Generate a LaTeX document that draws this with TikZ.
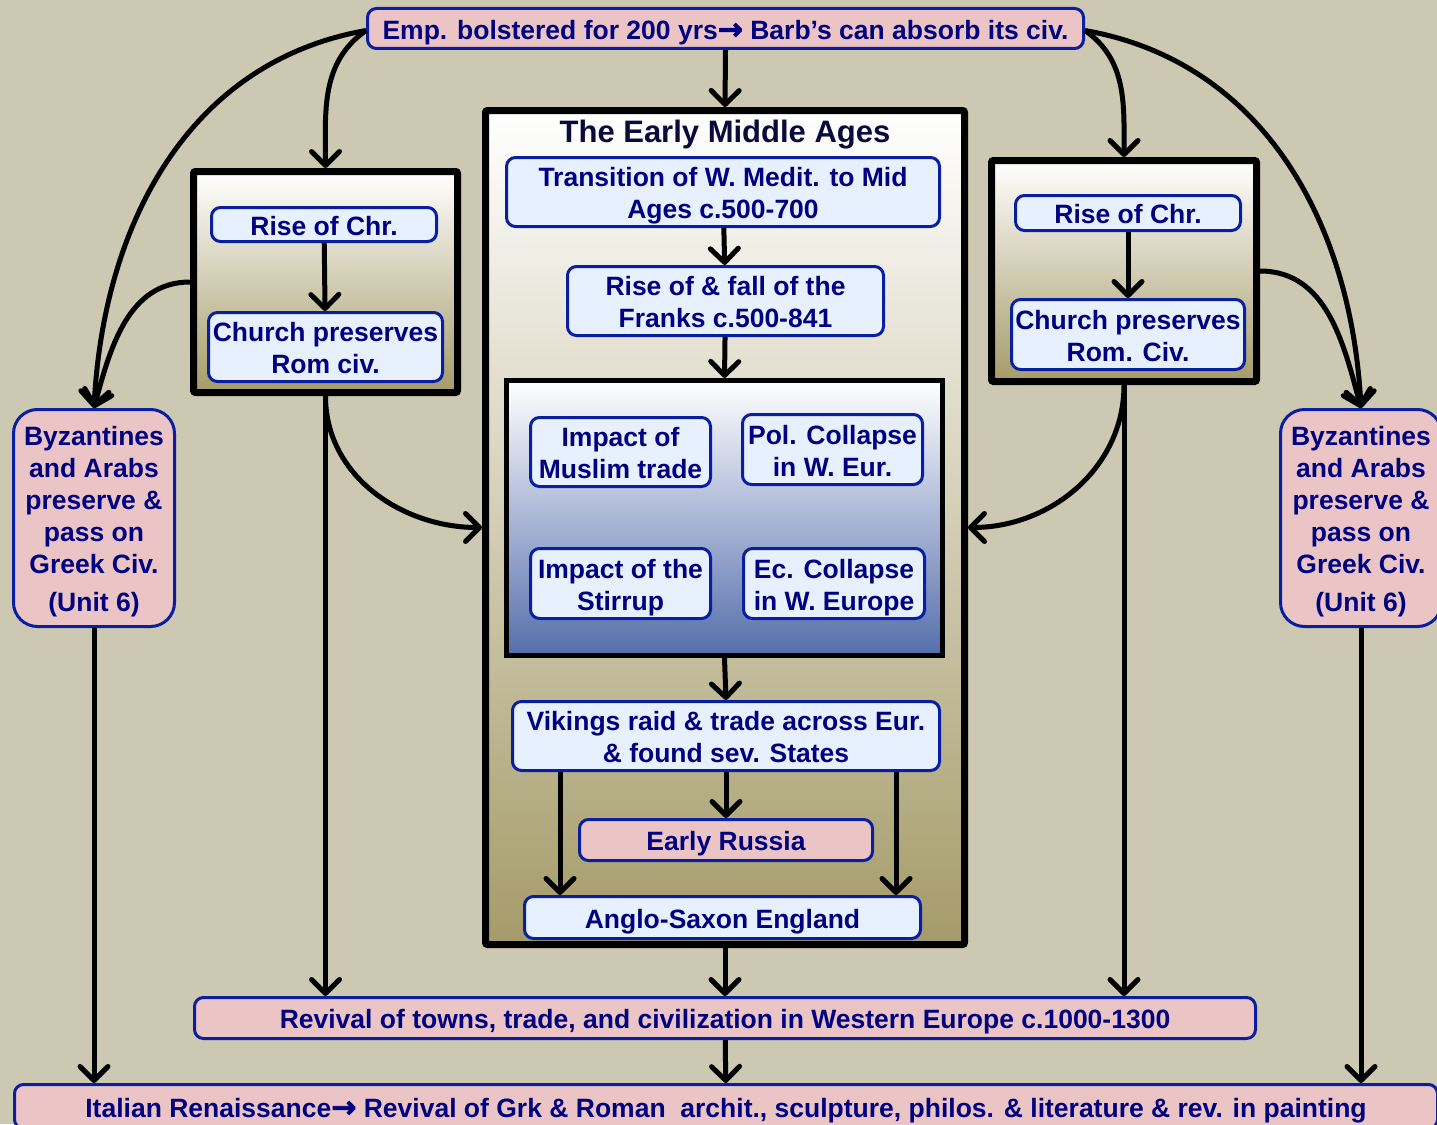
\documentclass[tikz,border=0pt]{standalone}
\usepackage{fontspec}
\setmainfont{Liberation Sans}
\newfontfamily\symfont{DejaVu Sans}
\usetikzlibrary{arrows.meta,calc}

\definecolor{bg}{RGB}{205,200,178}
\definecolor{pinkfill}{RGB}{235,197,197}
\definecolor{bluefill}{RGB}{230,240,255}
\definecolor{bordblue}{RGB}{10,30,160}
\definecolor{navytext}{RGB}{0,0,128}
\definecolor{titletext}{RGB}{10,10,60}
\definecolor{olive}{RGB}{165,155,105}
\definecolor{deepblue}{RGB}{85,110,172}

% heavy arrow used inside the banners
\newcommand{\rarr}{{\symfont\bfseries\fontsize{30}{32}\selectfont\addfontfeature{FakeBold=3}→}}
% centred block of lines, set a little below the box centre
\newsavebox\txtbox
\newcommand{\tx}[1]{\sbox\txtbox{\begin{tabular}{@{}c@{}}#1\end{tabular}}%
  \raisebox{-4.5pt}[\ht\txtbox][\dp\txtbox]{\usebox\txtbox}}

\tikzset{
  box/.style={rounded corners=9pt, draw=bordblue, line width=3pt, text=navytext,
    font=\bfseries\fontsize{26.5}{32}\selectfont, inner sep=0pt},
  bluebox/.style={box, fill=bluefill},
  pinkbox/.style={box, fill=pinkfill},
  frame/.style={draw=black, line width=7pt, rounded corners=2pt, inner sep=0pt,
    top color=white, bottom color=olive},
  link/.style={line width=5pt, -{Straight Barb[length=14pt,width=28pt,line cap=round,line join=round]}},
}

\begin{document}
\begin{tikzpicture}[x=1pt,y=1pt]
\fill[bg] (0,0) rectangle (1437,-1124);
\useasboundingbox (0,0) rectangle (1437,-1124);

% outer frames
\node[frame, minimum width=479pt, minimum height=834pt] (mid) at (725,-527.5) {};
\node[frame, minimum width=264pt, minimum height=221pt] (lframe) at (325.5,-282) {};
\node[frame, minimum width=265pt, minimum height=221pt] (rframe) at (1124,-271) {};

% top and bottom banners
\node[pinkbox, minimum width=716pt, minimum height=40pt] (top) at (725.5,-28.5)
  {\tx{Emp. bolstered for 200 yrs\rarr\ Barb’s can absorb its civ.}};
\node[pinkbox, minimum width=1061pt, minimum height=41pt] (revival) at (725,-1018)
  {\tx{Revival of towns, trade, and civilization in Western Europe c.1000-1300}};
\node[pinkbox, minimum width=1423pt, minimum height=44pt] (italy) at (726,-1106.5)
  {\tx{Italian Renaissance\rarr\ Revival of Grk \& Roman\ \ archit., sculpture, philos. \& literature \& rev. in painting}};

% side boxes
\node[pinkbox, rounded corners=24pt, minimum width=161pt, minimum height=217pt] (lbyz) at (94,-518)
  {\tx{Byzantines\\and Arabs\\preserve \&\\pass on\\Greek Civ.\\[6pt](Unit 6)}};
\node[pinkbox, rounded corners=24pt, minimum width=161pt, minimum height=217pt] (rbyz) at (1361,-518)
  {\tx{Byzantines\\and Arabs\\preserve \&\\pass on\\Greek Civ.\\[6pt](Unit 6)}};

% left column
\node[bluebox, minimum width=225pt, minimum height=34pt] (lrise) at (324,-224.5) {\tx{Rise of Chr.}};
\node[bluebox, minimum width=234pt, minimum height=69pt] (lchurch) at (325.5,-347) {\tx{Church preserves\\Rom civ.}};

% right column
\node[bluebox, minimum width=225pt, minimum height=35pt] (rrise) at (1128,-213) {\tx{Rise of Chr.}};
\node[bluebox, minimum width=233pt, minimum height=70pt] (rchurch) at (1128,-334.5) {\tx{Church preserves\\Rom. Civ.}};

% centre column
\node[text=titletext, font=\bfseries\fontsize{31}{36}\selectfont] (title) at (725,-134.5) {The Early Middle Ages};
\node[bluebox, minimum width=433pt, minimum height=69pt] (trans) at (723,-192) {\tx{Transition of W. Medit. to Mid\\Ages c.500-700}};
\node[bluebox, minimum width=316pt, minimum height=69pt] (franks) at (725.5,-301) {\tx{Rise of \& fall of the\\Franks c.500-841}};

\node[draw=black, line width=5pt, inner sep=0pt, top color=white, bottom color=deepblue,
  minimum width=436pt, minimum height=275pt] (inner) at (724.5,-518) {};
\node[bluebox, minimum width=180pt, minimum height=69pt] (muslim) at (620.5,-452) {\tx{Impact of\\Muslim trade}};
\node[bluebox, minimum width=180pt, minimum height=70pt] (pol) at (832.5,-449.5) {\tx{Pol. Collapse\\in W. Eur.}};
\node[bluebox, minimum width=180pt, minimum height=70pt] (stirrup) at (620.5,-583.5) {\tx{Impact of the\\Stirrup}};
\node[bluebox, minimum width=181pt, minimum height=70pt] (ec) at (834,-583.5) {\tx{Ec. Collapse\\in W. Europe}};

\node[bluebox, minimum width=427pt, minimum height=69pt] (vik) at (726,-736) {\tx{Vikings raid \& trade across Eur.\\\& found sev. States}};
\node[pinkbox, minimum width=293pt, minimum height=41pt] (russia) at (726,-840) {\tx{Early Russia}};
\node[bluebox, minimum width=396pt, minimum height=42pt] (anglo) at (722.5,-917.5) {\tx{Anglo-Saxon England}};

% connectors from the top banner
\draw[link] (top.south) -- (mid.north);
\draw[link] ([yshift=-2pt]top.west) to[out=215,in=90] (lframe.north);
\draw[link] ([yshift=-2pt]top.west) to[out=190,in=87] (lbyz.north);
\draw[link] ([yshift=-2pt]top.east) to[out=-35,in=90] (rframe.north);
\draw[link] ([yshift=-2pt]top.east) to[out=-10,in=93] (rbyz.north);

% side frames
\draw[link] (lrise) -- (lchurch);
\draw[link] (rrise) -- (rchurch);
\draw[link] (lframe.west) to[out=180,in=75] (lbyz.north);
\draw[link] (rframe.east) to[out=0,in=105] (rbyz.north);
\draw[link] (lframe.south) to[out=-90,in=180] (mid.west);
\draw[link] (rframe.south) to[out=-90,in=0] (mid.east);
\draw[link] (lframe.south) -- (lframe.south |- revival.north);
\draw[link] (rframe.south) -- (rframe.south |- revival.north);

% centre column
\draw[link] (trans) -- (franks);
\draw[link] (franks) -- (inner.north);
\draw[link] (inner.south) -- (vik.north);
\draw[link] (vik) -- (russia);
\draw[link] ([xshift=-166pt]vik.south) -- ([xshift=-166pt]vik.south |- anglo.north);
\draw[link] ([xshift=170pt]vik.south) -- ([xshift=170pt]vik.south |- anglo.north);
\draw[link] (mid.south) -- (revival.north);

% bottom
\draw[link] (revival) -- (italy);
\draw[link] (lbyz.south) -- (lbyz.south |- italy.north);
\draw[link] (rbyz.south) -- (rbyz.south |- italy.north);
\end{tikzpicture}
\end{document}
